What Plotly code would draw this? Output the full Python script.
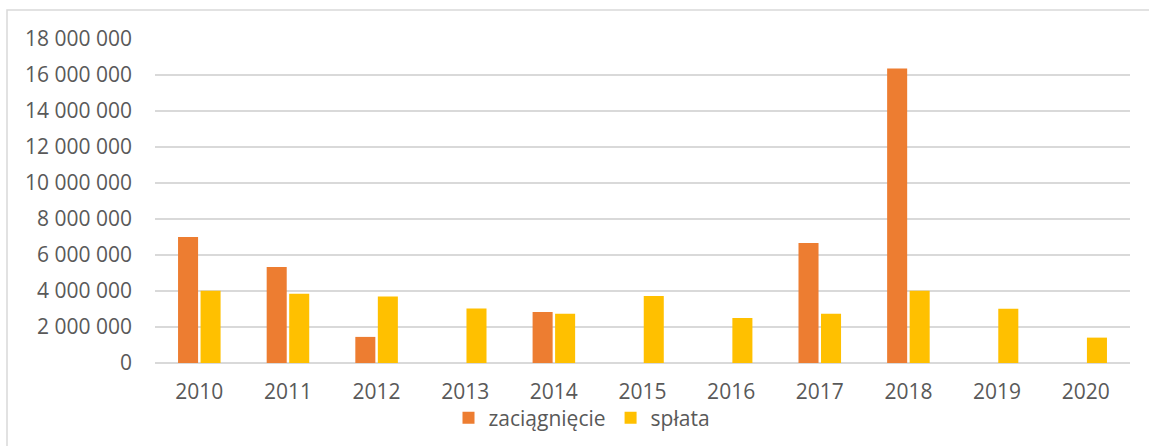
import plotly.graph_objects as go

years = ["2010", "2011", "2012", "2013", "2014", "2015", "2016", "2017", "2018", "2019", "2020"]
zaciagniecie = [7000000, 5340000, 1450000, None, 2830000, None, None, 6670000, 16360000, None, None]
splata = [4010000, 3850000, 3700000, 3030000, 2740000, 3720000, 2500000, 2740000, 4010000, 3020000, 1410000]

y_ticks = [0, 2000000, 4000000, 6000000, 8000000, 10000000, 12000000, 14000000, 16000000, 18000000]

FONT = "Open Sans"
FONT_SIZE = 21
TEXT_COLOR = "#595959"
GRID_COLOR = "#d9d9d9"

fig = go.Figure()
fig.add_trace(go.Bar(x=years, y=zaciagniecie, name="zaciągnięcie",
                     marker=dict(color="#ED7D31", line=dict(width=0))))
fig.add_trace(go.Bar(x=years, y=splata, name="spłata",
                     marker=dict(color="#FFC000", line=dict(width=0))))

W, H = 1149, 446
ml, mr, mt, mb = 155, 19, 39, 83
pw, ph = W - ml - mr, H - mt - mb


def px_to_paper_x(px):
    return (px - ml) / pw


def px_to_paper_y(py):
    return (H - mb - py) / ph


fig.update_layout(
    width=W, height=H,
    margin=dict(l=ml, r=mr, t=mt, b=mb, autoexpand=False),
    paper_bgcolor="white", plot_bgcolor="white",
    barmode="group", bargap=0.492, bargroupgap=0.11,
    separators=". ",
    font=dict(family=FONT, size=FONT_SIZE, color=TEXT_COLOR),
    showlegend=True,
    legend=dict(orientation="h", x=px_to_paper_x(582), xanchor="center",
                y=px_to_paper_y(418), yanchor="middle",
                font=dict(family=FONT, size=FONT_SIZE, color=TEXT_COLOR),
                bgcolor="rgba(0,0,0,0)", itemwidth=30, tracegroupgap=0),
    xaxis=dict(type="category", showgrid=False, zeroline=False, showline=False,
               automargin=False, ticks="", ticklabelstandoff=14,
               tickfont=dict(size=FONT_SIZE, color=TEXT_COLOR)),
    yaxis=dict(range=[0, 18000000], tickvals=y_ticks, tickformat=",d",
               automargin=False,
               showgrid=True, gridcolor=GRID_COLOR, gridwidth=1.5,
               zeroline=True, zerolinecolor=GRID_COLOR, zerolinewidth=1.5,
               showline=False, ticks="", ticklabelstandoff=22,
               tickfont=dict(size=FONT_SIZE, color=TEXT_COLOR)),
    shapes=[dict(type="rect", xref="paper", yref="paper",
                 x0=px_to_paper_x(7), x1=px_to_paper_x(1155),
                 y0=px_to_paper_y(452), y1=px_to_paper_y(10),
                 line=dict(color=GRID_COLOR, width=1.5), fillcolor="rgba(0,0,0,0)",
                 layer="below")],
)

fig.write_html("out.html")
